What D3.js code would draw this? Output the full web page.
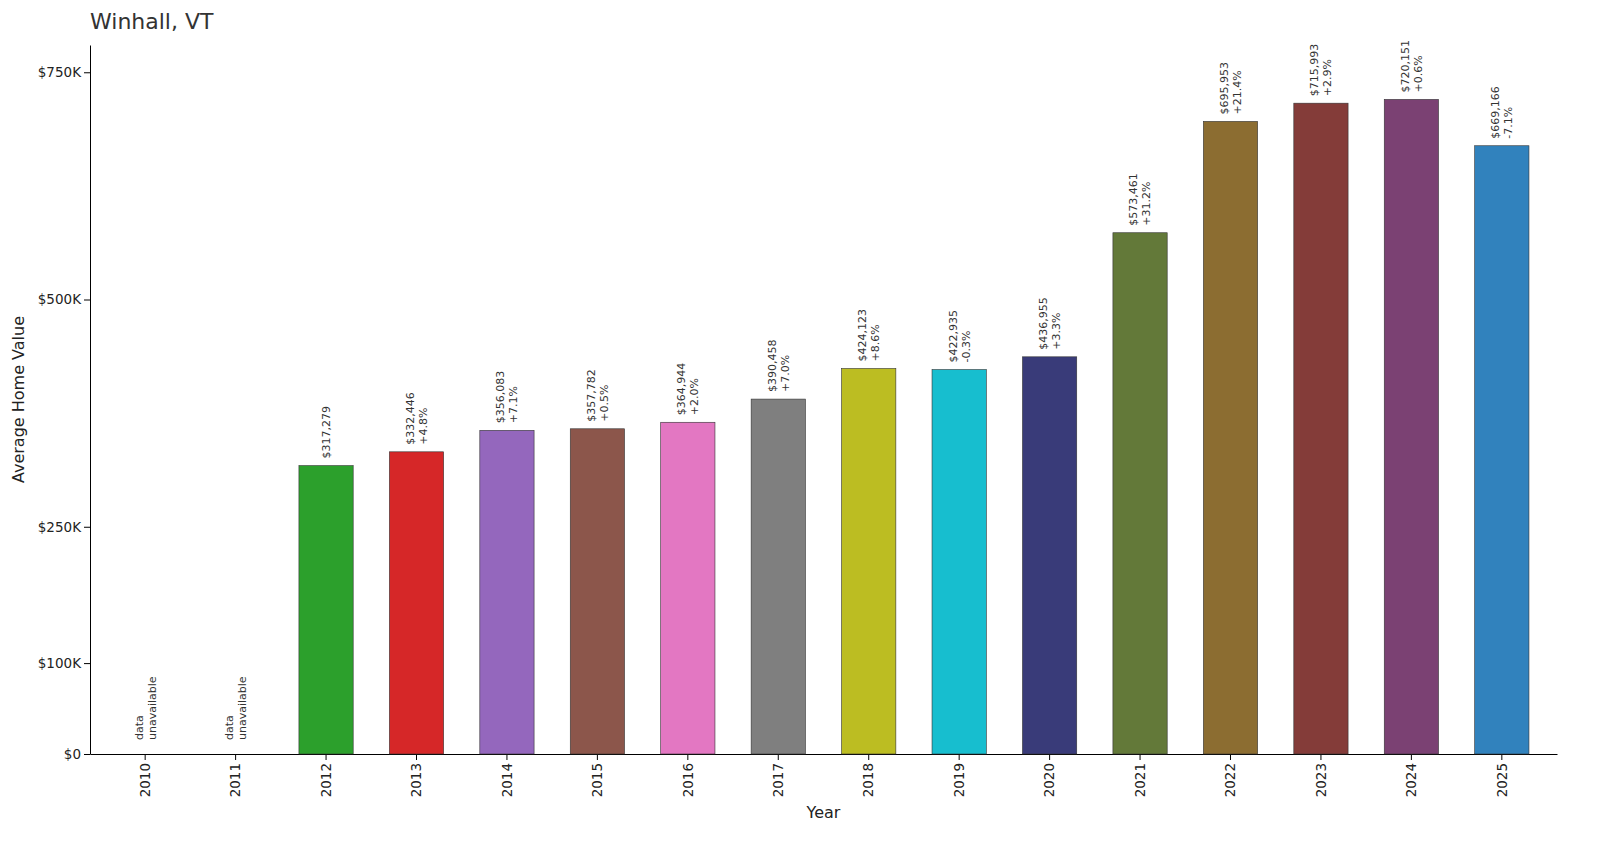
<!DOCTYPE html>
<html>
<head>
<meta charset="utf-8">
<script src="https://cdn.jsdelivr.net/npm/d3@7"></script>
<style>
	body { margin: 0; background: #fff; font-family: "DejaVu Sans", sans-serif; }
</style>
</head>
<body>
<svg id="chart" width="1600" height="848"></svg>
<script>
const years  = ['2010','2011','2012','2013','2014','2015','2016','2017','2018','2019','2020','2021','2022','2023','2024','2025'];
const values = [null, null, 317279, 332446, 356083, 357782, 364944, 390458, 424123, 422935, 436955, 573461, 695953, 715993, 720151, 669166];
const changes = [null, null, null, '+4.8%', '+7.1%', '+0.5%', '+2.0%', '+7.0%', '+8.6%', '-0.3%', '+3.3%', '+31.2%', '+21.4%', '+2.9%', '+0.6%', '-7.1%'];
const colors = ['#1f77b4','#ff7f0e','#2ca02c','#d62728','#9467bd','#8c564b','#e377c2','#7f7f7f','#bcbd22','#17becf','#393b79','#637939','#8c6d31','#843c39','#7b4173','#3182bd'];
const yTicks = [0, 100000, 250000, 500000, 750000];

const margin = {top: 45, right: 43, bottom: 94, left: 90};
const width = 1600, height = 848;
const svg = d3.select('#chart');

const x = d3.scaleBand().domain(years)
	.range([margin.left, width - margin.right])
	.paddingInner(0.4).paddingOuter(0.31);
const y = d3.scaleLinear().domain([0, 780000])
	.range([height - margin.bottom, margin.top]);

const fmtTick = v => v === 0 ? '$0' : '$' + (v / 1000) + 'K';

// axes
const yAxis = svg.append('g')
	.attr('transform', 'translate(' + margin.left + ',0)')
	.call(d3.axisLeft(y).tickValues(yTicks).tickFormat(fmtTick).tickSizeOuter(0));
const xAxis = svg.append('g')
	.attr('transform', 'translate(0,' + (height - margin.bottom) + ')')
	.call(d3.axisBottom(x).tickSizeOuter(0));
xAxis.selectAll('text')
	.attr('transform', 'rotate(-90)')
	.attr('text-anchor', 'end')
	.attr('x', -9).attr('y', 0).attr('dy', '0.35em');
svg.selectAll('.domain').attr('stroke', '#000');
svg.selectAll('.tick text').attr('font-size', 13.5).attr('fill', '#222').attr('font-family', '"DejaVu Sans", sans-serif');

// bars
const rows = years.map((yr, i) => ({year: yr, value: values[i], change: changes[i], color: colors[i]}));

svg.append('g').selectAll('rect')
	.data(rows.filter(d => d.value !== null))
	.join('rect')
		.attr('x', d => x(d.year))
		.attr('y', d => y(d.value))
		.attr('width', x.bandwidth())
		.attr('height', d => y(0) - y(d.value))
		.attr('fill', d => d.color)
		.attr('stroke', '#333')
		.attr('stroke-width', 0.6);

// labels
const lab = svg.append('g').selectAll('g')
	.data(rows)
	.join('g')
		.attr('transform', d => {
			const cx = x(d.year) + x.bandwidth() / 2;
			const top = d.value === null ? y(0) - 14 : y(d.value) - 7;
			return 'translate(' + cx + ',' + top + ') rotate(-90)';
		})
		.attr('font-size', 11)
		.attr('fill', '#333');

lab.each(function(d) {
	const g = d3.select(this);
	let lines;
	if (d.value === null) lines = ['data', 'unavailable'];
	else if (d.change === null) lines = ['$' + d3.format(',')(d.value)];
	else lines = ['$' + d3.format(',')(d.value), d.change];
	const off = (lines.length - 1) * 6.5;
	lines.forEach((t, k) => {
		g.append('text')
			.attr('x', 0)
			.attr('y', k * 13 - off)
			.attr('dy', '0.35em')
			.attr('text-anchor', 'start')
			.text(t);
	});
});

// titles
svg.append('text')
	.attr('x', margin.left).attr('y', 29)
	.attr('font-size', 22).attr('fill', '#333')
	.text('Winhall, VT');
svg.append('text')
	.attr('x', (margin.left + width - margin.right) / 2).attr('y', 818)
	.attr('text-anchor', 'middle')
	.attr('font-size', 16).attr('fill', '#222')
	.text('Year');
svg.append('text')
	.attr('transform', 'translate(24,' + ((margin.top + height - margin.bottom) / 2) + ') rotate(-90)')
	.attr('text-anchor', 'middle')
	.attr('font-size', 16).attr('fill', '#222')
	.text('Average Home Value');
</script>
</body>
</html>
